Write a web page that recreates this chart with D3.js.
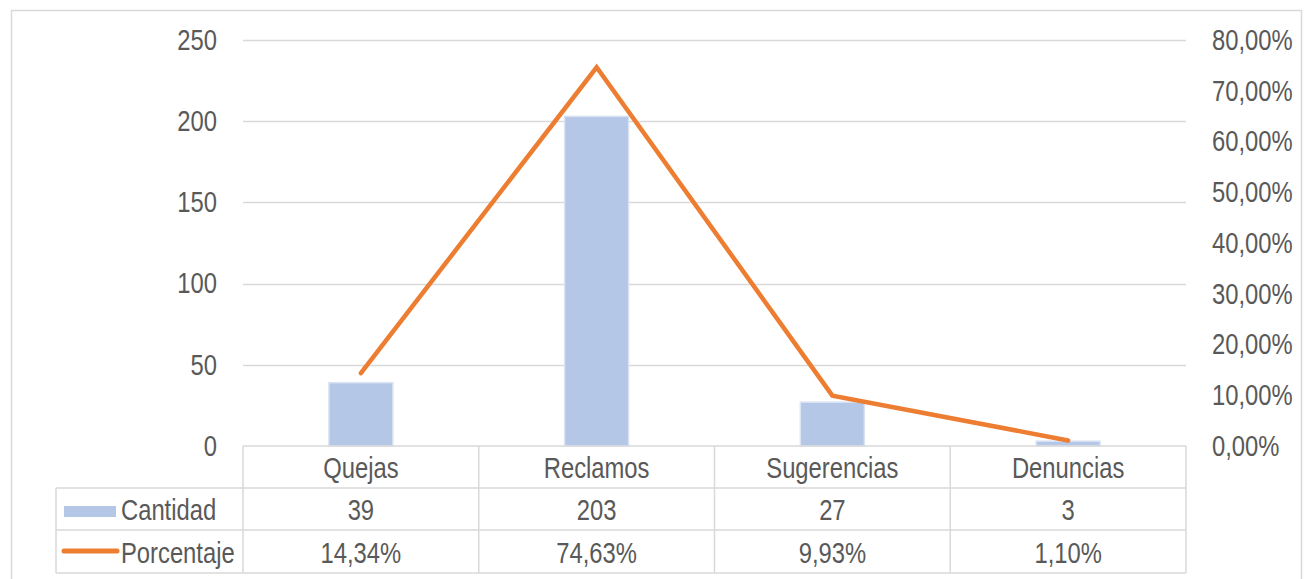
<!DOCTYPE html>
<html>
<head>
<meta charset="utf-8">
<script src="https://cdn.jsdelivr.net/npm/d3@7"></script>
<style>
  html, body { margin: 0; padding: 0; background: #fff; }
  svg text { font-family: "Liberation Sans Narrow", "Arial Narrow", "Liberation Sans", Arial, sans-serif; fill: #595959; }
</style>
</head>
<body>
<svg id="chart" width="1311" height="579"></svg>
<script>
// Data
const categories = ["Quejas", "Reclamos", "Sugerencias", "Denuncias"];
const cantidad = [39, 203, 27, 3];
const porcentaje = [14.34, 74.63, 9.93, 1.10];
const cantidadLabels = ["39", "203", "27", "3"];
const porcentajeLabels = ["14,34%", "74,63%", "9,93%", "1,10%"];
const leftTicks = [0, 50, 100, 150, 200, 250];
const rightTicks = [0, 10, 20, 30, 40, 50, 60, 70, 80];
const seriesNames = ["Cantidad", "Porcentaje"];

const svg = d3.select("#chart");
const plot = { left: 243, right: 1186, top: 40, bottom: 446 };
const rowH = [42, 42, 43]; // header, Cantidad, Porcentaje
const tableLeft = 56;
const gridColor = "#d9d9d9";
const fontSize = 29;
const fontFamily = '"Liberation Sans Narrow", "Arial Narrow", "Liberation Sans", Arial, sans-serif';
const narrow = 0.82; // condensed width factor for the narrow face

// Chart frame
svg.append("rect").attr("x", 11.5).attr("y", 10.5).attr("width", 1290).attr("height", 580)
  .attr("fill", "#fff").attr("stroke", gridColor).attr("stroke-width", 1.5);

const x = d3.scaleBand().domain(categories).range([plot.left, plot.right]).paddingInner(0).paddingOuter(0);
const yL = d3.scaleLinear().domain([0, 250]).range([plot.bottom, plot.top]);
const yR = d3.scaleLinear().domain([0, 80]).range([plot.bottom, plot.top]);

// Horizontal gridlines
svg.append("g").selectAll("line").data(leftTicks.filter(d => d > 0)).join("line")
  .attr("x1", plot.left).attr("x2", plot.right)
  .attr("y1", d => Math.round(yL(d)) + 0.5).attr("y2", d => Math.round(yL(d)) + 0.5)
  .attr("stroke", gridColor).attr("stroke-width", 1.5);

// Left axis labels
const leftAxis = d3.axisLeft(yL).tickValues(leftTicks).tickSize(0).tickPadding(26).tickFormat(d3.format("d"));
const gL = svg.append("g").attr("transform", `translate(${plot.left},0)`).call(leftAxis);
gL.select(".domain").remove();
gL.selectAll("text").style("font-size", fontSize + "px").attr("fill", "#595959").style("font-family", fontFamily);

// Right axis labels
const rightAxis = d3.axisRight(yR).tickValues(rightTicks).tickSize(0).tickPadding(26)
  .tickFormat(d => d3.format(".2f")(d).replace(".", ",") + "%");
const gR = svg.append("g").attr("transform", `translate(${plot.right},0)`).call(rightAxis);
gR.select(".domain").remove();
gR.selectAll("text").style("font-size", fontSize + "px").attr("fill", "#595959").style("font-family", fontFamily);

// Bars
const barW = 64;
svg.append("g").selectAll("rect").data(categories).join("rect")
  .attr("x", d => x(d) + x.bandwidth() / 2 - barW / 2)
  .attr("width", barW)
  .attr("y", (d, i) => yL(cantidad[i]))
  .attr("height", (d, i) => plot.bottom - yL(cantidad[i]))
  .attr("fill", "#b4c7e7")
  .attr("stroke", "#dae3f3").attr("stroke-width", 1.5);

// Line
const line = d3.line().x((d, i) => x(categories[i]) + x.bandwidth() / 2).y(d => yR(d));
svg.append("path").datum(porcentaje).attr("d", line)
  .attr("fill", "none").attr("stroke", "#ed7d31").attr("stroke-width", 4.5)
  .attr("stroke-linejoin", "miter").attr("stroke-linecap", "round");

// Data table
const rowTop = [plot.bottom, plot.bottom + rowH[0], plot.bottom + rowH[0] + rowH[1]];
const tableBottom = rowTop[2] + rowH[2];
const tg = svg.append("g");
const hl = (x1, x2, y) => tg.append("line").attr("x1", x1).attr("x2", x2).attr("y1", y).attr("y2", y)
  .attr("stroke", gridColor).attr("stroke-width", 1.5);
const vl = (xx, y1, y2) => tg.append("line").attr("x1", xx).attr("x2", xx).attr("y1", y1).attr("y2", y2)
  .attr("stroke", gridColor).attr("stroke-width", 1.5);

hl(plot.left, plot.right, plot.bottom);
hl(tableLeft, plot.right, rowTop[1]);
hl(tableLeft, plot.right, rowTop[2]);
hl(tableLeft, plot.right, tableBottom);
vl(tableLeft, rowTop[1], tableBottom);
categories.forEach(c => vl(x(c), plot.bottom, tableBottom));
vl(plot.right, plot.bottom, tableBottom);

const cellText = (txt, cx, cy, anchor) => tg.append("text").attr("x", cx).attr("y", cy)
  .attr("text-anchor", anchor || "middle").attr("dominant-baseline", "central")
  .style("font-size", fontSize + "px").style("font-family", fontFamily).text(txt);

categories.forEach((c, i) => {
  const cx = x(c) + x.bandwidth() / 2;
  cellText(c, cx, rowTop[0] + rowH[0] / 2 + 1);
  cellText(cantidadLabels[i], cx, rowTop[1] + rowH[1] / 2 + 1);
  cellText(porcentajeLabels[i], cx, rowTop[2] + rowH[2] / 2 + 1);
});

// Legend keys in the table
tg.append("rect").attr("x", 64).attr("y", rowTop[1] + 18).attr("width", 52).attr("height", 11).attr("fill", "#b4c7e7");
tg.append("line").attr("x1", 64).attr("x2", 117).attr("y1", rowTop[2] + 21).attr("y2", rowTop[2] + 21)
  .attr("stroke", "#ed7d31").attr("stroke-width", 5).attr("stroke-linecap", "round");
cellText(seriesNames[0], 121, rowTop[1] + rowH[1] / 2 + 1, "start");
cellText(seriesNames[1], 121, rowTop[2] + rowH[2] / 2 + 1, "start");

// Condense all labels to the narrow face's width
svg.selectAll("text").each(function () {
  const len = this.getComputedTextLength();
  d3.select(this).attr("textLength", len * narrow).attr("lengthAdjust", "spacingAndGlyphs");
});
</script>
</body>
</html>
